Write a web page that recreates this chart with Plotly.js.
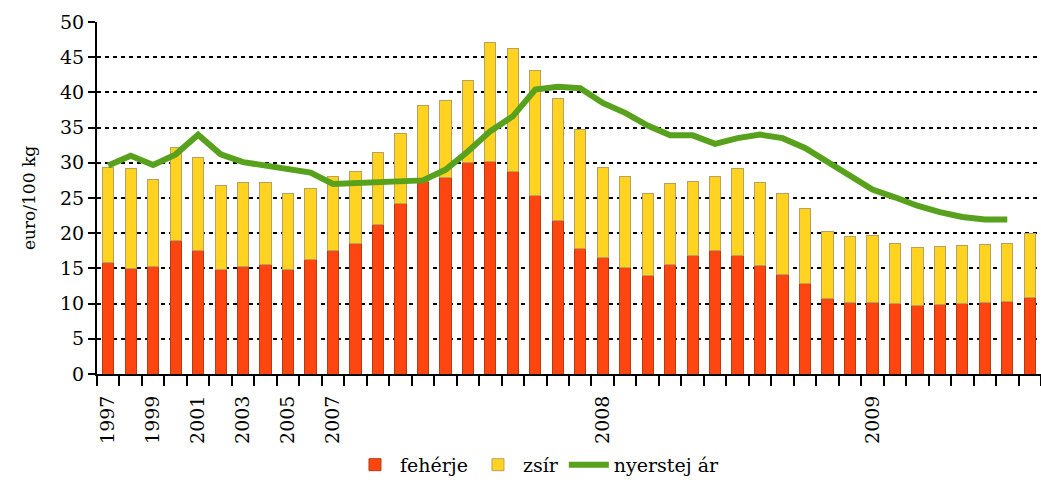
<!DOCTYPE html>
<html>
<head>
<meta charset="utf-8">
<script src="https://cdn.plot.ly/plotly-3.0.1.min.js"></script>
<style>html,body{margin:0;padding:0;background:#fff;}#chart{width:1041px;height:485px;}</style>
</head>
<body>
<div id="chart"></div>
<script>
// 1997–2007 yearly, then monthly values
var categories = ['1997','1998','1999','2000','2001','2002','2003','2004','2005','2006','2007',
  'p11','p12','p13','p14','p15','p16','p17','p18','p19','p20','p21',
  '2008','p23','p24','p25','p26','p27','p28','p29','p30','p31','p32','p33',
  '2009','p35','p36','p37','p38','p39','p40','p41'];
var tickCategories = ['1997','1999','2001','2003','2005','2007','2008','2009'];
var tickLabels = ['1997','1999','2001','2003','2005','2007','2008','2009'];

var feherje = [15.8,15.0,15.2,19.0,17.5,14.9,15.3,15.6,14.9,16.2,17.6,18.5,21.3,24.2,27.4,27.9,30.0,30.2,28.8,25.4,21.8,17.8,16.5,15.1,14.0,15.5,16.9,17.5,16.9,15.4,14.2,12.8,10.7,10.1,10.2,10.0,9.7,9.9,10.0,10.2,10.3,10.9];
var zsir = [13.5,14.2,12.4,13.2,13.2,11.9,11.9,11.6,10.7,10.1,10.4,10.2,10.2,10.0,10.7,11.0,11.7,16.9,17.5,17.7,17.4,16.9,12.9,12.9,11.7,11.6,10.5,10.5,12.3,11.8,11.4,10.7,9.5,9.4,9.5,8.5,8.2,8.2,8.2,8.2,8.2,9.0];
var nyerstej = [29.6,31.0,29.7,31.2,34.0,31.2,30.1,29.6,29.0,28.6,27.0,27.1,27.2,27.4,27.5,29.0,31.6,34.5,36.6,40.4,40.8,40.6,38.5,37.1,35.3,33.9,33.9,32.7,33.5,34.0,33.5,32.1,30.2,28.1,26.2,25.1,23.9,23.0,22.3,21.95,21.95,null];

var xs = categories.map(function(c, i){ return i; });
var tickvals = tickCategories.map(function(c){ return categories.indexOf(c); });

var font = '"DejaVu Serif", serif';

var traces = [
  {type:'bar', name:'fehérje', x:xs, y:feherje, width:0.5,
   marker:{color:'#FF4510', line:{color:'#B83A10', width:1}}},
  {type:'bar', name:'zsír', x:xs, y:zsir, width:0.5,
   marker:{color:'#FFD320', line:{color:'#B8A060', width:1}}},
  {type:'scatter', mode:'lines', name:'nyerstej ár', x:xs, y:nyerstej,
   line:{color:'#57A11C', width:6}, connectgaps:false}
];

var layout = {
  width:1041, height:485,
  margin:{l:97, r:0, t:22, b:111},
  barmode:'stack',
  bargap:0.5,
  plot_bgcolor:'#fff', paper_bgcolor:'#fff',
  font:{family:font, color:'#000', size:19},
  showlegend:true,
  legend:{orientation:'h', x:0.268, xanchor:'left', y:-0.312, yanchor:'bottom',
          font:{family:font, size:19}, traceorder:'normal', itemwidth:40},
  xaxis:{
    range:[-0.5, 41.5], showgrid:false, zeroline:false, automargin:false,
    showline:true, linecolor:'#000', linewidth:2,
    tickmode:'array', tickvals:tickvals, ticktext:tickLabels,
    ticks:'', tickangle:-90, tickfont:{family:font, size:19},
    ticklabelstandoff:12,
    minor:{tickmode:'linear', tick0:-0.5, dtick:1, ticks:'outside', ticklen:10, tickwidth:2, tickcolor:'#000', showgrid:false}
  },
  yaxis:{
    range:[0,50], tickmode:'linear', tick0:0, dtick:5, automargin:false,
    showgrid:true, gridcolor:'#000', gridwidth:2, griddash:'4px,4px',
    zeroline:false, showline:true, linecolor:'#000', linewidth:2,
    ticks:'outside', ticklen:7, tickwidth:2, tickcolor:'#000',
    tickfont:{family:font, size:19},
    title:{text:'euro/100 kg', font:{family:font, size:17}, standoff:20}
  }
};

Plotly.newPlot('chart', traces, layout, {displayModeBar:false, staticPlot:true});
</script>
</body>
</html>
